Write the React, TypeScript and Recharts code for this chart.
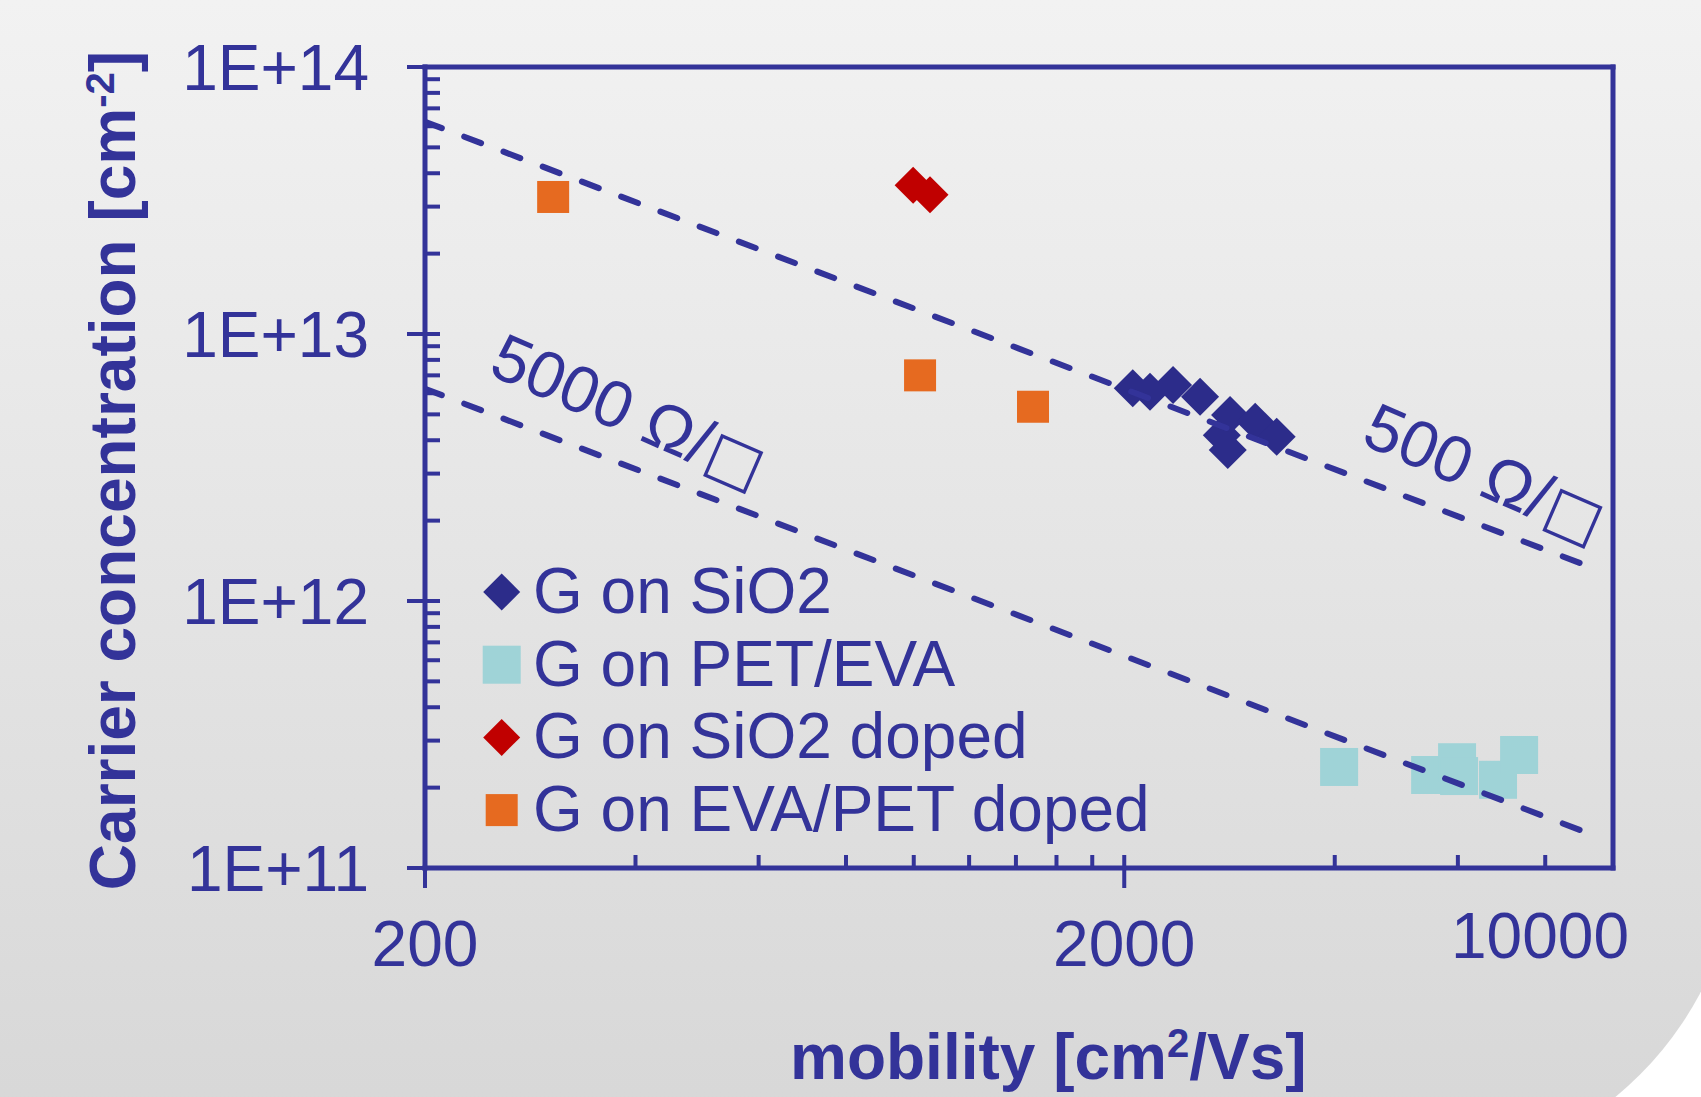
import React from 'react';
import { ScatterChart, Scatter, XAxis, YAxis, ReferenceLine, ReferenceDot, Legend } from 'recharts';

// ---------- data ----------
const seriesNames = ['G on SiO2', 'G on PET/EVA', 'G on SiO2 doped', 'G on EVA/PET doped'];

const sio2Mobility = [2057, 2177, 2349, 2567, 2834, 3078, 3304, 2758, 2812];
const sio2Carrier = [6.26e12, 6.08e12, 6.44e12, 5.82e12, 4.97e12, 4.69e12, 4.12e12, 4.18e12, 3.68e12];

const petMobility = [4058, 5476, 5984, 6024, 6848, 7340];
const petCarrier = [2.39e11, 2.23e11, 2.49e11, 2.21e11, 2.14e11, 2.65e11];

const sio2DopedMobility = [998, 1055];
const sio2DopedCarrier = [3.61e13, 3.32e13];

const evaDopedMobility = [305, 1021, 1481];
const evaDopedCarrier = [3.26e13, 7.0e12, 5.34e12];

// constant sheet-resistance guide lines
const line500Mobility = [200, 9500];
const line500Carrier = [6.24e13, 1.31e12];
const line5000Mobility = [200, 9500];
const line5000Carrier = [6.24e12, 1.31e11];

const note5000Anchor = { mobility: 245, carrier: 7.1e12, value: '5000', unit: ' Ω/', box: '□' };
const note500Anchor = { mobility: 4340, carrier: 3.9e12, value: '500', unit: ' Ω/', box: '□' };

// ticks
const xMajorTicks = [200, 2000, 10000];
const xMajorLabels = ['200', '2000', '10000'];
const xMinorTicks = [400, 600, 800, 1000, 1200, 1400, 1600, 1800, 4000, 6000, 8000];
const yMajorTicks = [1e11, 1e12, 1e13, 1e14];
const yMajorLabels = ['1E+11', '1E+12', '1E+13', '1E+14'];
const yMinorMantissas = [2, 3, 4, 5, 6, 7, 8, 9];

// ---------- derived tables ----------
const zip = (xs: number[], ys: number[]) => xs.map((x, i) => ({ x, y: ys[i] }));
const sio2Data = zip(sio2Mobility, sio2Carrier);
const petData = zip(petMobility, petCarrier);
const sio2DopedData = zip(sio2DopedMobility, sio2DopedCarrier);
const evaDopedData = zip(evaDopedMobility, evaDopedCarrier);
const line500Data = zip(line500Mobility, line500Carrier);
const line5000Data = zip(line5000Mobility, line5000Carrier);

const xTicks = [...xMajorTicks, ...xMinorTicks].sort((a, b) => a - b);
const yTicks: number[] = [];
yMajorTicks.forEach((d, i) => {
  yTicks.push(d);
  if (i < yMajorTicks.length - 1) yMinorMantissas.forEach((m) => yTicks.push(m * d));
});

// ---------- styles ----------
const NAVY = '#333399';
const FONT = '"Liberation Sans", Arial, Helvetica, sans-serif';
const FS = 64;

const markerStyles: Record<string, { kind: 'diamond' | 'square'; color: string; size: number }> = {
  'G on SiO2': { kind: 'diamond', color: '#2c2c8a', size: 38 },
  'G on PET/EVA': { kind: 'square', color: '#9fd3d7', size: 38 },
  'G on SiO2 doped': { kind: 'diamond', color: '#c00000', size: 37 },
  'G on EVA/PET doped': { kind: 'square', color: '#e66a20', size: 32 },
};

const Marker = ({ cx, cy, name, size }: { cx: number; cy: number; name: string; size?: number }) => {
  const s = markerStyles[name];
  if (!s || cx == null || cy == null) return <g />;
  const sz = size ?? s.size;
  const h = sz / 2;
  if (s.kind === 'diamond') {
    return <polygon points={`${cx},${cy - h} ${cx + h},${cy} ${cx},${cy + h} ${cx - h},${cy}`} fill={s.color} />;
  }
  return <rect x={cx - h} y={cy - h} width={sz} height={sz} fill={s.color} />;
};

const shapeFor = (name: string) => (p: any) => <Marker cx={p.cx} cy={p.cy} name={name} />;

const XTick = (props: any) => {
  const { x, y, payload } = props;
  const v = payload?.value;
  const mi = xMajorTicks.indexOf(v);
  const isEnd = v === xMajorTicks[xMajorTicks.length - 1];
  if (mi >= 0) {
    return (
      <g>
        {!isEnd && <line x1={x} x2={x} y1={y - 13} y2={y + 20} stroke={NAVY} strokeWidth={4} />}
        <text
          x={isEnd ? x - 73 : x}
          y={isEnd ? y + 90 : y + 98}
          textAnchor="middle"
          fill={NAVY}
          fontSize={FS}
          fontFamily={FONT}
        >
          {xMajorLabels[mi]}
        </text>
      </g>
    );
  }
  return <line x1={x} x2={x} y1={y - 13} y2={y} stroke={NAVY} strokeWidth={4} />;
};

const YTick = (props: any) => {
  const { x, y, payload } = props;
  const v = payload?.value;
  const mi = yMajorTicks.indexOf(v);
  if (mi >= 0) {
    return (
      <g>
        <line x1={x - 18} x2={x + 15} y1={y} y2={y} stroke={NAVY} strokeWidth={4} />
        <text x={x - 56} y={y + 23} textAnchor="end" fill={NAVY} fontSize={FS} fontFamily={FONT}>
          {yMajorLabels[mi]}
        </text>
      </g>
    );
  }
  return <line x1={x} x2={x + 15} y1={y} y2={y} stroke={NAVY} strokeWidth={4} />;
};

const renderNote = (p: any, note: { value: string; unit: string; box: string }) => {
  const vb = p?.viewBox || {};
  const x = (vb.x ?? 0) + (vb.width ?? 0) / 2;
  const y = (vb.y ?? 0) + (vb.height ?? 0) / 2;
  return (
    <text transform={`translate(${x},${y}) rotate(23.5)`} fill={NAVY} fontSize={66} fontFamily={FONT}>
      {note.value}
      {note.unit}
      <tspan fontFamily='"DejaVu Sans", sans-serif' fontSize={60} dx={1}>
        {note.box}
      </tspan>
    </text>
  );
};

const XTitle = (p: any) => {
  const vb = p?.viewBox || { x: 0, y: 0 };
  return (
    <text x={vb.x + 365} y={vb.y + 211} fill={NAVY} fontSize={FS} fontWeight="bold" fontFamily={FONT}>
      mobility [cm
      <tspan fontSize={40} dy={-22}>2</tspan>
      <tspan dy={22}>/Vs]</tspan>
    </text>
  );
};

const YTitle = (p: any) => {
  const vb = p?.viewBox || { x: 0, y: 0, height: 0 };
  const cx = 135;
  const cy = vb.y + vb.height / 2 + 3;
  return (
    <text
      transform={`translate(${cx},${cy}) rotate(-90)`}
      textAnchor="middle"
      fill={NAVY}
      fontSize={FS}
      fontWeight="bold"
      fontFamily={FONT}
    >
      Carrier concentration [cm
      <tspan fontSize={40} dy={-21}>-2</tspan>
      <tspan dy={21}>]</tspan>
    </text>
  );
};

const renderLegend = (props: any) => {
  const names: string[] = (props?.payload || []).map((e: any) => e.value);
  const rows = names.length ? seriesNames.filter((n) => names.includes(n)) : seriesNames;
  return (
    <svg width={760} height={320} style={{ display: 'block' }}>
      {rows.map((n, i) => {
        const cy = 52 + i * 72.7;
        return (
          <g key={n}>
            <Marker cx={51.7} cy={cy} name={n} size={markerStyles[n].kind === 'diamond' ? 37 : undefined} />
            <text x={83} y={cy + 21} fill={NAVY} fontSize={FS} fontFamily={FONT}>
              {n}
            </text>
          </g>
        );
      })}
    </svg>
  );
};

const dashedLine = { stroke: NAVY, strokeWidth: 6, strokeDasharray: '18 24', strokeLinecap: 'round' as const };

export default function App() {
  return (
    <div style={{ position: 'absolute', left: 0, top: 0, width: 1701, height: 1097, overflow: 'hidden', background: '#ffffff' }}>
      <div
        style={{
          position: 'absolute',
          left: 0,
          top: 0,
          width: 1740,
          height: 1175,
          borderBottomRightRadius: 342,
          background: 'linear-gradient(to bottom, #f2f2f2 0%, #d6d6d6 100%)',
        }}
      />
      <div style={{ position: 'absolute', left: 0, top: 0 }}>
        <ScatterChart width={1701} height={1097} margin={{ top: 67, right: 88, bottom: 0, left: 0 }}>
          <XAxis
            dataKey="x"
            type="number"
            scale="log"
            domain={[200, 10000]}
            allowDataOverflow
            ticks={xTicks}
            interval={0}
            tickSize={0}
            tickMargin={0}
            tickLine={false}
            tick={(p: any) => <XTick {...p} />}
            height={229}
            axisLine={{ stroke: NAVY, strokeWidth: 5, strokeLinecap: 'square' }}
            label={(p: any) => <XTitle {...p} />}
          />
          <YAxis
            dataKey="y"
            type="number"
            scale="log"
            domain={[1e11, 1e14]}
            allowDataOverflow
            ticks={yTicks}
            interval={0}
            tickSize={0}
            tickMargin={0}
            tickLine={false}
            tick={(p: any) => <YTick {...p} />}
            width={425}
            axisLine={{ stroke: NAVY, strokeWidth: 5, strokeLinecap: 'square' }}
            label={(p: any) => <YTitle {...p} />}
          />
          <ReferenceLine y={1e14} stroke={NAVY} strokeWidth={5} strokeLinecap="square" />
          <ReferenceLine x={10000} stroke={NAVY} strokeWidth={5} strokeLinecap="square" />

          <Scatter name={seriesNames[0]} data={sio2Data} shape={shapeFor(seriesNames[0])} fill={markerStyles[seriesNames[0]].color} isAnimationActive={false} />
          <Scatter name={seriesNames[1]} data={petData} shape={shapeFor(seriesNames[1])} fill={markerStyles[seriesNames[1]].color} isAnimationActive={false} />
          <Scatter name={seriesNames[2]} data={sio2DopedData} shape={shapeFor(seriesNames[2])} fill={markerStyles[seriesNames[2]].color} isAnimationActive={false} />
          <Scatter name={seriesNames[3]} data={evaDopedData} shape={shapeFor(seriesNames[3])} fill={markerStyles[seriesNames[3]].color} isAnimationActive={false} />

          <Scatter name="500" data={line500Data} legendType="none" shape={() => <g />} line={dashedLine} isAnimationActive={false} />
          <Scatter name="5000" data={line5000Data} legendType="none" shape={() => <g />} line={dashedLine} isAnimationActive={false} />

          <ReferenceDot
            x={note5000Anchor.mobility}
            y={note5000Anchor.carrier}
            r={0}
            fill="none"
            stroke="none"
            label={(p: any) => renderNote(p, note5000Anchor)}
          />
          <ReferenceDot
            x={note500Anchor.mobility}
            y={note500Anchor.carrier}
            r={0}
            fill="none"
            stroke="none"
            label={(p: any) => renderNote(p, note500Anchor)}
          />

          <Legend
            layout="vertical"
            align="center"
            verticalAlign="middle"
            content={renderLegend}
            wrapperStyle={{ left: 450, top: 540, width: 760, height: 320, margin: 0, padding: 0 }}
          />
        </ScatterChart>
      </div>
    </div>
  );
}
